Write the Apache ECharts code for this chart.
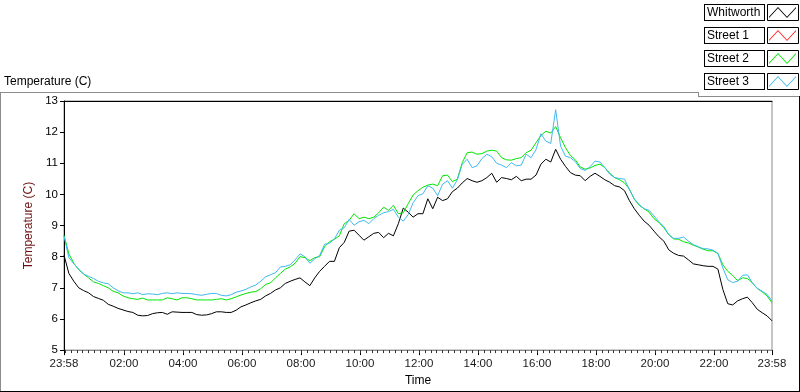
<!DOCTYPE html>
<html>
<head>
<meta charset="utf-8">
<title>Temperature (C)</title>
<script src="https://cdn.jsdelivr.net/npm/echarts@6/dist/echarts.min.js"></script>
<style>
    html, body { margin: 0; padding: 0; background: #fff; }
    #chart { width: 800px; height: 392px; }
</style>
</head>
<body>
<div id="chart"></div>
<script>
// minutes after 23:58 of the previous day
var sampleMinutes = [
    0, 10, 20, 30, 40, 50, 60, 70, 80, 90, 100, 110, 120, 130, 140, 150, 160, 170, 180, 190,
    200, 210, 220, 230, 240, 250, 260, 270, 280, 290, 300, 310, 320, 330, 340, 350, 360, 370, 380, 390,
    400, 410, 420, 430, 440, 450, 460, 470, 480, 490, 500, 510, 520, 530, 540, 550, 560, 570, 580, 590,
    600, 610, 620, 630, 640, 650, 660, 670, 680, 690, 700, 710, 720, 730, 740, 750, 760, 770, 780, 790,
    800, 810, 820, 830, 840, 850, 860, 870, 880, 890, 900, 910, 920, 930, 940, 950, 960, 970, 980, 990,
    1000, 1010, 1020, 1030, 1040, 1050, 1060, 1070, 1080, 1090, 1100, 1110, 1120, 1130, 1140, 1150, 1160, 1170, 1180, 1190,
    1200, 1210, 1220, 1230, 1240, 1250, 1260, 1270, 1280, 1290, 1300, 1310, 1320, 1330, 1340, 1350, 1360, 1370, 1380, 1390,
    1400, 1410, 1420, 1430, 1440
];

var whitworth = [
    8.05, 7.46, 7.21, 7.00, 6.91, 6.84, 6.72, 6.66, 6.60, 6.47, 6.41, 6.34, 6.29, 6.24, 6.21, 6.12, 6.10, 6.11, 6.17, 6.20,
    6.21, 6.15, 6.23, 6.22, 6.21, 6.21, 6.21, 6.14, 6.12, 6.13, 6.17, 6.23, 6.23, 6.21, 6.21, 6.28, 6.39, 6.45, 6.52, 6.58,
    6.63, 6.74, 6.82, 6.93, 7.00, 7.14, 7.21, 7.27, 7.32, 7.19, 7.07, 7.32, 7.53, 7.69, 7.85, 7.85, 8.29, 8.46, 8.82, 8.85,
    8.69, 8.53, 8.64, 8.75, 8.78, 8.61, 8.75, 8.67, 9.06, 9.56, 9.43, 9.27, 9.38, 9.38, 9.86, 9.54, 9.91, 9.80, 9.86, 10.09,
    10.20, 10.37, 10.51, 10.44, 10.39, 10.44, 10.54, 10.68, 10.39, 10.54, 10.51, 10.47, 10.58, 10.44, 10.49, 10.49, 10.62, 10.97, 11.13, 11.04,
    11.45, 11.13, 10.90, 10.70, 10.62, 10.60, 10.44, 10.58, 10.68, 10.58, 10.47, 10.39, 10.28, 10.24, 10.12, 9.80, 9.54, 9.33, 9.14, 9.01,
    8.82, 8.64, 8.50, 8.22, 8.11, 8.04, 8.02, 7.90, 7.77, 7.74, 7.71, 7.69, 7.69, 7.60, 6.95, 6.49, 6.45, 6.58, 6.65, 6.70,
    6.52, 6.31, 6.20, 6.10, 5.94
];

// no readings visible for Street 1
var street1 = [];

var street2 = [
    8.69, 8.09, 7.79, 7.58, 7.44, 7.32, 7.19, 7.14, 7.07, 7.00, 6.89, 6.84, 6.74, 6.68, 6.65, 6.63, 6.67, 6.61, 6.61, 6.61,
    6.61, 6.68, 6.65, 6.61, 6.68, 6.68, 6.65, 6.61, 6.61, 6.61, 6.61, 6.63, 6.65, 6.61, 6.65, 6.71, 6.77, 6.82, 6.86, 6.88,
    6.97, 7.11, 7.16, 7.32, 7.46, 7.60, 7.67, 7.79, 8.00, 7.97, 7.87, 7.97, 8.00, 8.32, 8.48, 8.56, 8.67, 9.06, 9.17, 9.38,
    9.22, 9.27, 9.22, 9.27, 9.41, 9.59, 9.49, 9.65, 9.38, 9.41, 9.70, 9.98, 10.12, 10.23, 10.30, 10.33, 10.28, 10.60, 10.62, 10.41,
    10.49, 11.02, 11.34, 11.36, 11.29, 11.31, 11.39, 11.42, 11.39, 11.18, 11.11, 11.10, 11.15, 11.18, 11.34, 11.42, 11.66, 11.89, 12.03, 11.97,
    12.18, 11.82, 11.50, 11.25, 11.11, 10.88, 10.81, 10.85, 10.93, 10.97, 10.86, 10.68, 10.54, 10.47, 10.37, 10.17, 9.84, 9.65, 9.54, 9.43,
    9.22, 9.10, 8.93, 8.71, 8.57, 8.56, 8.48, 8.44, 8.37, 8.31, 8.24, 8.19, 8.19, 8.10, 7.74, 7.53, 7.40, 7.23, 7.32, 7.30,
    7.16, 6.98, 6.87, 6.74, 6.52
];

var street3 = [
    8.66, 7.97, 7.77, 7.60, 7.44, 7.37, 7.30, 7.21, 7.16, 7.13, 7.00, 6.91, 6.84, 6.84, 6.81, 6.84, 6.78, 6.81, 6.80, 6.78,
    6.82, 6.84, 6.81, 6.84, 6.82, 6.82, 6.81, 6.78, 6.76, 6.79, 6.82, 6.82, 6.76, 6.74, 6.78, 6.86, 6.90, 6.95, 7.03, 7.09,
    7.21, 7.35, 7.42, 7.48, 7.67, 7.69, 7.74, 7.90, 8.09, 8.00, 7.79, 7.93, 8.04, 8.40, 8.43, 8.57, 8.85, 8.93, 9.20, 9.01,
    9.12, 9.17, 9.06, 9.22, 9.33, 9.41, 9.45, 9.52, 9.27, 9.14, 9.35, 9.73, 9.96, 10.02, 10.28, 10.20, 9.96, 10.33, 10.44, 10.20,
    10.47, 10.97, 11.13, 10.86, 10.92, 11.15, 11.29, 11.21, 11.00, 10.94, 10.86, 11.02, 10.92, 10.94, 11.29, 11.18, 11.44, 11.95, 11.71, 11.64,
    12.72, 11.55, 11.23, 11.18, 11.05, 10.83, 10.77, 10.89, 11.07, 11.04, 10.86, 10.65, 10.54, 10.51, 10.49, 10.15, 9.86, 9.67, 9.54, 9.49,
    9.31, 9.12, 8.97, 8.71, 8.59, 8.59, 8.63, 8.50, 8.39, 8.32, 8.26, 8.25, 8.21, 8.11, 7.64, 7.26, 7.17, 7.21, 7.40, 7.42,
    7.16, 6.98, 6.89, 6.79, 6.58
];

var seriesNames = ['Whitworth', 'Street 1', 'Street 2', 'Street 3'];
var seriesColors = ['#000000', '#ff2020', '#00e600', '#40b8f0'];

// major ticks on the time axis and their labels
var timeTicks = [0, 122, 242, 362, 482, 602, 722, 842, 962, 1082, 1202, 1322, 1440];
var timeLabels = ['23:58', '02:00', '04:00', '06:00', '08:00', '10:00', '12:00',
    '14:00', '16:00', '18:00', '20:00', '22:00', '23:58'];

(function () {
    var myChart = echarts.init(document.getElementById('chart'), null, { renderer: 'canvas' });
    var font = 'Liberation Sans';

    function pairs(values) {
        return values.map(function (v, i) { return [sampleMinutes[i], v]; });
    }

    // minor ticks every 12 minutes
    var minorTicks = [];
    for (var m = 2; m < 1440; m += 12) minorTicks.push(m);

    // boxes round the legend samples
    var sampleBoxes = seriesNames.map(function (n, i) {
        return {
            type: 'rect',
            shape: { x: 767.5, y: 4.5 + i * 23, width: 31, height: 16 },
            style: { fill: 'none', stroke: '#000', lineWidth: 1 }
        };
    });

    var option = {
        animation: false,
        color: seriesColors,
        title: {
            text: 'Temperature (C)',
            left: 4,
            top: 76,
            padding: 0,
            textStyle: { fontFamily: font, fontSize: 12, fontWeight: 'normal', color: '#000' }
        },
        legend: {
            data: seriesNames,
            orient: 'vertical',
            right: 4,
            top: 4,
            padding: 0,
            align: 'right',
            itemGap: 6,
            itemWidth: 27,
            itemHeight: 11,
            selectedMode: false,
            symbolKeepAspect: false,
            icon: 'path://M0,11 L9,0 L18,11 L27,0 L27,1.5 L18,12.5 L9,1.5 L0,12.5 Z',
            itemStyle: { borderWidth: 0 },
            formatter: function (name) {
                return '{n|' + name + '}';
            },
            textStyle: {
                color: '#000',
                padding: [1, 2, 1, 2],
                borderColor: '#000',
                borderWidth: 1,
                backgroundColor: '#fff',
                rich: {
                    n: { width: 55, align: 'left', fontFamily: font, fontSize: 12, lineHeight: 13, color: '#000' }
                }
            }
        },
        grid: {
            left: 64,
            right: 28,
            top: 101,
            bottom: 39,
            show: true,
            borderColor: '#8c8c8c',
            borderWidth: 1,
            backgroundColor: '#fff'
        },
        xAxis: [
            {
                type: 'value',
                min: 0,
                max: 1440,
                position: 'bottom',
                name: 'Time',
                nameLocation: 'middle',
                nameGap: 15,
                nameTextStyle: { fontFamily: font, fontSize: 12, color: '#000' },
                axisLine: { show: true, onZero: false, lineStyle: { color: '#8c8c8c' } },
                axisTick: {
                    show: true,
                    length: 5,
                    customValues: timeTicks,
                    lineStyle: { color: '#000' }
                },
                axisLabel: {
                    customValues: timeTicks,
                    margin: 8,
                    fontFamily: font,
                    fontSize: 11.5,
                    color: '#1a1a1a',
                    formatter: function (v) {
                        var i = timeTicks.indexOf(v);
                        return i >= 0 ? timeLabels[i] : '';
                    }
                },
                splitLine: { show: false }
            },
            {
                type: 'value',
                min: 0,
                max: 1440,
                position: 'bottom',
                axisLine: { show: false },
                axisTick: {
                    show: true,
                    length: 3,
                    customValues: minorTicks,
                    lineStyle: { color: '#333' }
                },
                axisLabel: { show: false },
                splitLine: { show: false }
            },
            {
                type: 'value',
                min: 0,
                max: 1440,
                position: 'top',
                axisLine: { show: true, lineStyle: { color: '#000' } },
                axisTick: { show: false },
                axisLabel: { show: false },
                splitLine: { show: false }
            }
        ],
        yAxis: {
            type: 'value',
            min: 5,
            max: 13,
            interval: 1,
            name: 'Temperature (C)',
            nameLocation: 'middle',
            nameGap: 18,
            nameTextStyle: { fontFamily: font, fontSize: 12, color: '#6b1212' },
            axisLine: { show: true, lineStyle: { color: '#000' } },
            axisTick: { show: true, length: 4, lineStyle: { color: '#000' } },
            axisLabel: { margin: 6, fontFamily: font, fontSize: 11.5, color: '#000' },
            splitLine: { show: false }
        },
        graphic: [
            // outer panel frame
            { type: 'line', shape: { x1: 0, y1: 92.5, x2: 698, y2: 92.5 }, style: { stroke: '#8c8c8c', lineWidth: 1 } },
            { type: 'line', shape: { x1: 698.5, y1: 92, x2: 698.5, y2: 96.5 }, style: { stroke: '#8c8c8c', lineWidth: 1 } },
            { type: 'line', shape: { x1: 698, y1: 96.5, x2: 800, y2: 96.5 }, style: { stroke: '#8c8c8c', lineWidth: 1 } },
            { type: 'line', shape: { x1: 0.5, y1: 92, x2: 0.5, y2: 392 }, style: { stroke: '#8c8c8c', lineWidth: 1 } },
            { type: 'line', shape: { x1: 0, y1: 391.5, x2: 800, y2: 391.5 }, style: { stroke: '#000', lineWidth: 1 } },
            { type: 'line', shape: { x1: 799.5, y1: 96, x2: 799.5, y2: 392 }, style: { stroke: '#000', lineWidth: 1 } }
        ].concat(sampleBoxes),
        series: [
            { name: seriesNames[0], type: 'line', data: pairs(whitworth), showSymbol: false, symbol: 'none', lineStyle: { width: 1, color: seriesColors[0] } },
            { name: seriesNames[1], type: 'line', data: pairs(street1), showSymbol: false, symbol: 'none', lineStyle: { width: 1, color: seriesColors[1] } },
            { name: seriesNames[2], type: 'line', data: pairs(street2), showSymbol: false, symbol: 'none', lineStyle: { width: 1, color: seriesColors[2] } },
            { name: seriesNames[3], type: 'line', data: pairs(street3), showSymbol: false, symbol: 'none', lineStyle: { width: 1, color: seriesColors[3] } }
        ]
    };

    myChart.setOption(option);
    window.addEventListener('resize', function () {
        myChart.resize();
    });
})();
</script>
</body>
</html>
